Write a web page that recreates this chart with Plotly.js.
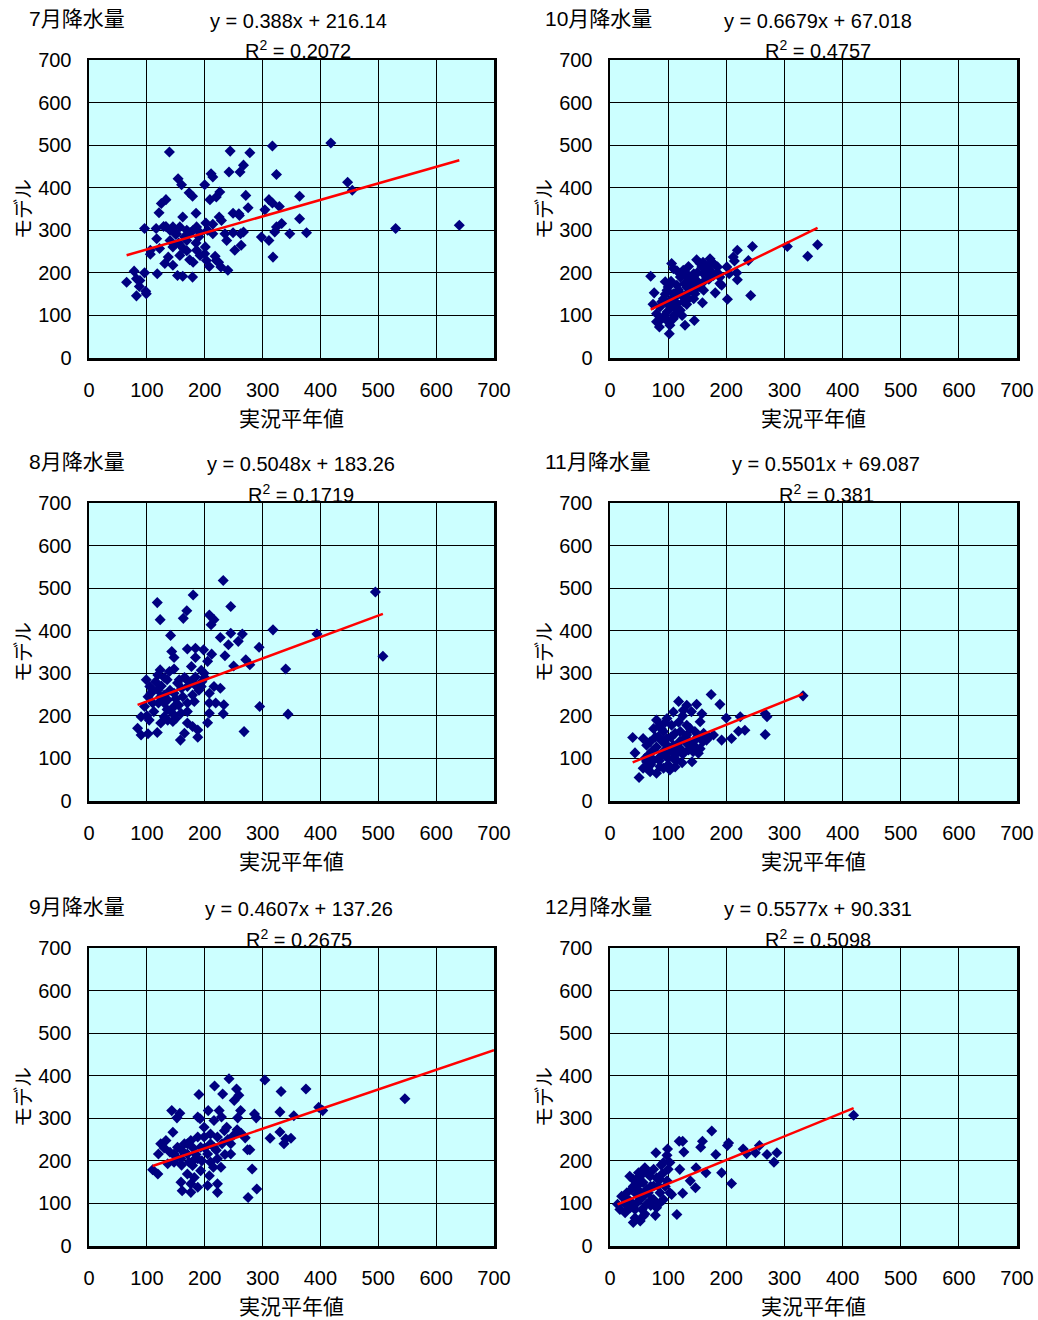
<!DOCTYPE html>
<html><head><meta charset="utf-8">
<script src="https://cdn.plot.ly/plotly-3.0.1.min.js"></script>
<style>html,body{margin:0;padding:0;background:#fff}#chart{width:1038px;height:1320px}</style>
</head><body><div id="chart"></div>
<script>
// Panel order: Jul, Oct, Aug, Nov, Sep, Dec
const panelTitles = ["7月降水量","10月降水量","8月降水量","11月降水量","9月降水量","12月降水量"];
const slopes = [0.388, 0.6679, 0.5048, 0.5501, 0.4607, 0.5577];
const intercepts = [216.14, 67.018, 183.26, 69.087, 137.26, 90.331];
const r2Values = ["0.2072","0.4757","0.1719","0.381","0.2675","0.5098"];
const trendForwardTo = [null, null, null, null, 700, null];
const xTitle = "実況平年値";
const yTitle = "モデル";
const tickVals = [0,100,200,300,400,500,600,700];

const julX = [139,244,278,317,418,242,261,267,211,214,324,154,160,200,173,179,226,220,209,271,447,455,364,311,317,329,275,133,125,121,185,249,259,364,304,162,225,229,96,116,129,145,157,169,180,202,214,192,249,267,333,324,321,347,376,298,311,530,640,117,122,106,106,145,163,169,186,201,157,137,131,145,153,162,179,174,180,203,208,218,224,228,240,238,252,263,262,260,318,235,118,96,78,82,65,87,82,98,99,88,133,140,151,169,192,200,220,186,214,150,165,175,190,205,140,155,185];
const julY = [484,486,482,498,505,437,437,453,433,425,431,421,407,407,388,380,390,378,372,382,413,394,380,372,364,356,353,372,363,341,340,340,339,327,348,331,331,323,304,304,309,308,308,300,300,317,314,294,294,296,316,308,296,292,294,284,276,304,312,280,257,253,244,261,257,276,253,261,241,237,222,218,194,192,190,231,225,229,215,239,225,214,206,276,253,265,292,335,237,292,198,200,204,186,178,168,146,157,151,182,309,276,292,252,241,245,229,308,292,290,285,295,285,300,300,270,270];

const octX = [70,76,74,106,109,126,149,155,172,178,185,158,144,132,121,95,100,115,132,144,161,166,178,189,192,181,161,146,135,126,115,103,92,86,80,86,85,103,102,109,98,115,129,145,159,202,242,219,218,205,212,214,219,238,245,305,340,357,121,132,109,98,138,149,132,161,172,155,89,92,106,121,132,144,189,201,80,98,112,124,95,110,118,128,140,150,165,175,100,110,95,125,138,150,170,185,160,135,115,105];
const octY = [192,153,126,222,210,206,231,222,233,222,214,214,198,190,190,179,167,171,167,171,179,190,194,175,171,153,159,151,139,132,128,135,139,120,104,88,73,77,57,92,108,112,77,88,130,138,147,184,200,198,237,228,253,229,262,262,239,266,151,151,151,159,175,182,198,198,206,167,132,96,120,112,126,139,190,214,85,88,100,100,150,140,160,175,185,200,215,225,125,100,95,145,160,165,185,200,225,215,205,180];

const augX = [232,180,118,123,169,163,245,208,216,211,495,508,141,245,265,227,241,258,318,394,170,184,198,212,235,143,147,294,184,205,177,271,278,250,340,123,139,147,119,199,167,184,99,105,135,153,170,194,216,227,119,130,147,162,179,208,102,110,130,182,147,170,208,219,233,208,232,295,344,96,90,104,124,136,145,159,170,179,188,205,84,90,102,118,165,158,188,268,130,150,136,156,194,107,124,110,115,125,130,140,150,160,165,175,185,195,200,120,135,145,155,170,190,100,112];
const augY = [518,484,466,426,447,429,457,437,426,414,491,340,389,394,392,384,367,375,402,392,357,359,355,345,341,351,337,361,337,328,316,332,320,317,310,308,304,310,296,300,288,291,285,269,285,277,269,269,269,265,261,249,253,245,249,253,245,230,230,234,222,210,230,230,226,206,205,222,204,222,198,190,183,190,187,206,183,175,167,184,171,155,158,161,159,143,150,163,198,194,238,285,307,253,245,260,280,270,290,260,240,265,290,280,270,280,290,230,215,205,225,230,260,200,210];

const novX = [39,43,50,57,63,75,80,86,92,98,83,72,63,57,69,80,92,103,112,100,86,75,118,109,126,132,149,158,155,146,138,132,121,112,109,121,132,143,155,152,161,141,124,174,189,200,224,178,192,209,221,232,267,270,267,332,92,106,115,69,80,98,86,66,106,132,98,109,143,166,60,70,75,85,90,95,100,105,110,115,120,125,130,135,65,78,88,95,118,125,140,150,160,170,145];
const novY = [149,113,55,147,131,170,190,178,163,147,151,116,92,77,69,65,77,73,80,100,104,96,234,209,213,225,227,205,186,163,170,155,163,159,131,123,135,139,123,112,159,92,90,250,227,195,198,155,143,147,164,166,205,198,156,247,116,116,112,139,127,131,81,108,178,178,194,100,116,143,100,85,120,95,140,110,85,150,125,95,140,110,150,120,75,150,170,185,185,200,210,150,140,150,130];

const sepX = [242,304,217,190,231,255,259,251,332,375,546,397,404,354,330,286,289,262,257,143,157,152,188,192,206,225,229,238,234,256,263,270,313,330,340,349,337,274,278,145,133,124,120,110,119,136,147,153,170,176,188,199,210,222,159,173,188,205,210,222,228,245,245,170,182,193,208,159,176,161,176,188,205,222,222,282,290,275,193,170,147,199,216,179,216,130,140,150,160,165,180,185,200,210,220,230,240,195,215,180,160,235,250];
const sepY = [393,390,376,356,357,369,354,342,363,369,346,326,318,306,315,310,301,318,301,318,312,301,303,299,318,318,303,279,271,273,265,254,253,268,252,253,240,226,226,267,248,240,216,179,169,193,216,232,240,248,256,256,263,256,205,197,205,216,197,205,185,240,216,169,161,177,165,150,146,130,126,138,142,146,126,181,134,114,232,216,197,279,295,189,232,230,220,210,225,240,230,215,230,240,225,240,250,200,185,200,190,215,260];

const decX = [419,175,119,125,159,156,204,202,229,235,250,257,270,287,282,182,127,192,209,165,148,138,147,120,125,115,79,99,98,92,103,75,60,49,40,37,29,20,13,17,26,40,52,43,34,46,57,63,75,86,100,98,86,75,80,78,63,55,52,103,106,92,69,52,34,46,32,66,83,43,57,30,40,45,50,55,60,65,70,72,80,85,90,95,35,25,60,70,48,58,88];
const decY = [307,270,246,246,246,232,242,236,228,217,219,236,215,219,197,215,221,172,147,172,184,153,137,180,124,74,219,228,213,196,196,180,184,172,156,133,125,117,98,86,78,55,59,86,106,121,149,133,141,156,180,153,125,109,90,72,98,86,109,125,121,109,164,164,164,141,98,125,141,66,70,110,140,100,130,150,120,170,140,110,160,100,170,140,90,100,75,95,160,180,190];

const seriesX = [julX, octX, augX, novX, sepX, decX];
const seriesY = [julY, octY, augY, novY, sepY, decY];

// layout geometry (pixels in a 1038x1320 page)
const W = 1038, H = 1320;
const colX = [[89,494],[610,1017]];
const rowY = [[60,358],[503,801],[948,1246]];
const titleLeft = [27, 543];
const eqCenter = [298, 818, 301, 826, 299, 818];
const FONT = "Arial, 'Liberation Sans', 'Noto Sans CJK JP', sans-serif";

const traces = [];
const layout = {
  width: W, height: H,
  margin: {l:0, r:0, t:0, b:0},
  paper_bgcolor: "#ffffff",
  plot_bgcolor: "#CCFFFF",
  showlegend: false,
  font: {family: FONT, size: 20, color: "#000"},
  annotations: []
};

for (let i = 0; i < 6; i++) {
  const col = i % 2, row = Math.floor(i / 2);
  const sfx = i === 0 ? "" : String(i + 1);
  const xa = "x" + sfx, ya = "y" + sfx;
  const xs = seriesX[i], ys = seriesY[i];
  traces.push({
    type: "scatter", mode: "markers", x: xs, y: ys, xaxis: xa, yaxis: ya,
    marker: {symbol: "diamond", size: 8.5, color: "#000080", line: {width: 0}},
    hoverinfo: "x+y"
  });
  const x0 = Math.min(...xs);
  const x1 = trendForwardTo[i] !== null ? trendForwardTo[i] : Math.max(...xs);
  traces.push({
    type: "scatter", mode: "lines", xaxis: xa, yaxis: ya,
    x: [x0, x1], y: [slopes[i] * x0 + intercepts[i], slopes[i] * x1 + intercepts[i]],
    line: {color: "#FF0000", width: 2.5}, hoverinfo: "skip"
  });
  const [px0, px1] = colX[col];
  const [py0, py1] = rowY[row];
  const axCommon = {
    range: [0, 700], tickvals: tickVals, showgrid: true, gridcolor: "#000", gridwidth: 1,
    zeroline: false, showline: true, mirror: true, linecolor: "#000", linewidth: 2.5,
    ticks: "", tickfont: {family: FONT, size: 20, color: "#000"}, fixedrange: true
  };
  layout["xaxis" + sfx] = Object.assign({}, axCommon, {
    domain: [px0 / W, px1 / W], anchor: ya, ticklabelstandoff: 12,
    title: {text: xTitle, font: {family: FONT, size: 21, color: "#000"}, standoff: 12}
  });
  layout["yaxis" + sfx] = Object.assign({}, axCommon, {
    domain: [1 - py1 / H, 1 - py0 / H], anchor: xa, ticklabelstandoff: 11,
    title: {text: yTitle, font: {family: FONT, size: 20, color: "#000"}, standoff: 1}
  });
  layout.annotations.push({
    xref: "paper", yref: "paper", x: titleLeft[col] / W, y: 1 - (py0 - 42) / H,
    xanchor: "left", yanchor: "middle", text: panelTitles[i], showarrow: false,
    font: {family: FONT, size: 21, color: "#000"}
  });
  layout.annotations.push({
    xref: "paper", yref: "paper", x: eqCenter[i] / W, y: 1 - (py0 - 39) / H,
    xanchor: "center", yanchor: "middle", showarrow: false,
    text: "y = " + slopes[i] + "x + " + intercepts[i], font: {family: FONT, size: 20, color: "#000"}
  });
  layout.annotations.push({
    xref: "paper", yref: "paper", x: eqCenter[i] / W, y: 1 - (py0 - 10) / H,
    xanchor: "center", yanchor: "middle", showarrow: false,
    text: "R<sup>2</sup> = " + r2Values[i], font: {family: FONT, size: 20, color: "#000"}
  });
}

Plotly.newPlot("chart", traces, layout, {staticPlot: true, displayModeBar: false});
</script>
</body></html>
